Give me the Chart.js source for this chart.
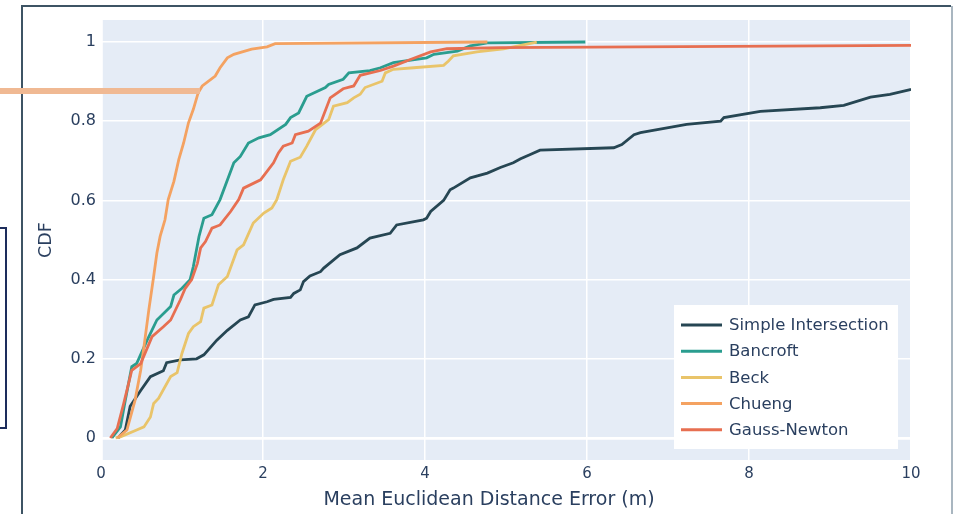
<!DOCTYPE html>
<html>
<head>
<meta charset="utf-8">
<title>CDF</title>
<script src="https://cdn.jsdelivr.net/npm/chart.js@4/dist/chart.umd.min.js"></script>
<style>
  html, body { margin: 0; padding: 0; background: #fff; }
  #wrap { position: relative; width: 953px; height: 514px; overflow: hidden; }
</style>
</head>
<body>
<div id="wrap"><canvas id="cdf" width="953" height="514"></canvas></div>
<script>
"use strict";

// * =============== データ =============== *

const seriesNames = ["Simple Intersection", "Bancroft", "Beck", "Chueng", "Gauss-Newton"];
const seriesColors = ["#264653", "#2a9d8f", "#e9c46a", "#f4a261", "#e76f51"];

const xTicks = [0, 2, 4, 6, 8, 10];
const yTicks = [0, 0.2, 0.4, 0.6, 0.8, 1];

const simpleX = [0.21, 0.30, 0.36, 0.49, 0.61, 0.77, 0.81, 0.98, 1.18, 1.27, 1.43, 1.56, 1.72, 1.82, 1.90, 2.05, 2.13, 2.34, 2.38, 2.46, 2.50, 2.58, 2.71, 2.75, 2.95, 3.16, 3.32, 3.57, 3.65, 3.98, 4.02, 4.07, 4.23, 4.31, 4.35, 4.56, 4.77, 4.93, 5.09, 5.18, 5.30, 5.42, 6.33, 6.43, 6.58, 6.66, 7.23, 7.65, 7.69, 8.14, 8.88, 9.17, 9.50, 9.74, 9.99, 10.3];
const simpleY = [0, 0.02, 0.08, 0.12, 0.155, 0.17, 0.19, 0.197, 0.20, 0.21, 0.247, 0.272, 0.298, 0.306, 0.336, 0.344, 0.350, 0.355, 0.365, 0.374, 0.395, 0.409, 0.42, 0.429, 0.463, 0.48, 0.505, 0.517, 0.538, 0.551, 0.555, 0.572, 0.60, 0.627, 0.631, 0.657, 0.669, 0.683, 0.695, 0.705, 0.716, 0.727, 0.733, 0.741, 0.766, 0.771, 0.792, 0.80, 0.809, 0.825, 0.834, 0.84, 0.861, 0.868, 0.880, 0.89];

const bancroftX = [0.135, 0.24, 0.30, 0.38, 0.44, 0.57, 0.69, 0.86, 0.90, 1.00, 1.10, 1.14, 1.21, 1.27, 1.37, 1.47, 1.64, 1.72, 1.82, 1.95, 2.09, 2.28, 2.34, 2.44, 2.54, 2.77, 2.81, 2.99, 3.06, 3.32, 3.45, 3.61, 4.02, 4.11, 4.40, 4.56, 4.77, 5.98];
const bancroftY = [0, 0.028, 0.095, 0.18, 0.188, 0.247, 0.298, 0.332, 0.361, 0.378, 0.40, 0.433, 0.509, 0.555, 0.564, 0.602, 0.695, 0.711, 0.745, 0.758, 0.766, 0.792, 0.809, 0.821, 0.863, 0.885, 0.893, 0.906, 0.922, 0.928, 0.935, 0.948, 0.960, 0.969, 0.977, 0.99, 0.998, 1.0];

const beckX = [0.18, 0.24, 0.44, 0.53, 0.61, 0.65, 0.71, 0.86, 0.94, 1.00, 1.08, 1.14, 1.23, 1.27, 1.37, 1.45, 1.56, 1.68, 1.76, 1.88, 2.01, 2.11, 2.17, 2.25, 2.34, 2.46, 2.54, 2.65, 2.81, 2.87, 3.04, 3.12, 3.20, 3.26, 3.47, 3.51, 3.61, 3.86, 4.23, 4.29, 4.35, 4.64, 4.97, 5.38];
const beckY = [0, 0.003, 0.02, 0.028, 0.053, 0.087, 0.10, 0.155, 0.165, 0.214, 0.264, 0.281, 0.294, 0.328, 0.336, 0.387, 0.408, 0.475, 0.488, 0.543, 0.568, 0.581, 0.602, 0.652, 0.699, 0.709, 0.737, 0.779, 0.804, 0.838, 0.847, 0.859, 0.868, 0.885, 0.901, 0.922, 0.931, 0.935, 0.941, 0.952, 0.965, 0.975, 0.983, 1.0];

const chuengX = [0.20, 0.32, 0.42, 0.49, 0.53, 0.59, 0.65, 0.69, 0.73, 0.79, 0.83, 0.90, 0.96, 1.02, 1.08, 1.14, 1.20, 1.25, 1.41, 1.47, 1.56, 1.64, 1.86, 2.05, 2.15, 4.77];
const chuengY = [0, 0.02, 0.095, 0.171, 0.23, 0.323, 0.408, 0.467, 0.509, 0.551, 0.602, 0.648, 0.703, 0.745, 0.796, 0.83, 0.872, 0.889, 0.914, 0.935, 0.96, 0.969, 0.982, 0.988, 0.996, 1.0];

const gaussX = [0.115, 0.20, 0.28, 0.38, 0.49, 0.63, 0.77, 0.86, 0.98, 1.04, 1.12, 1.19, 1.23, 1.29, 1.37, 1.47, 1.60, 1.70, 1.76, 1.97, 2.13, 2.19, 2.25, 2.36, 2.40, 2.56, 2.71, 2.83, 2.99, 3.12, 3.20, 3.45, 3.61, 3.82, 4.07, 4.27, 4.93, 10.3];
const gaussY = [0, 0.024, 0.087, 0.171, 0.188, 0.256, 0.281, 0.298, 0.349, 0.378, 0.40, 0.441, 0.48, 0.496, 0.53, 0.538, 0.572, 0.602, 0.631, 0.652, 0.695, 0.72, 0.737, 0.745, 0.766, 0.775, 0.795, 0.859, 0.882, 0.889, 0.916, 0.928, 0.939, 0.956, 0.975, 0.983, 0.986, 0.992];

const seriesX = [simpleX, bancroftX, beckX, chuengX, gaussX];
const seriesY = [simpleY, bancroftY, beckY, chuengY, gaussY];

const xTitle = "Mean Euclidean Distance Error (m)";
const yTitle = "CDF";

// * =============== 共通スタイル =============== *

const FONT = "'DejaVu Sans', Verdana, sans-serif";
const TEXT = "#2a3f5f";

const toPoints = (xs, ys) => xs.map((x, i) => ({x: x, y: ys[i]}));

// プロット背景
const plotBg = {
    id: "plotBg",
    beforeDraw(chart) {
        const {ctx, chartArea: a} = chart;
        ctx.save();
        ctx.fillStyle = "#e5ecf6";
        ctx.fillRect(a.left, a.top, a.right - a.left, a.bottom - a.top);
        ctx.restore();
    }
};

// x軸タイトル（元画像では少し左寄り）
const xAxisTitle = {
    id: "xAxisTitle",
    afterDraw(chart) {
        const ctx = chart.ctx;
        ctx.save();
        ctx.font = "19px " + FONT;
        ctx.fillStyle = TEXT;
        ctx.textAlign = "center";
        ctx.textBaseline = "middle";
        ctx.fillText(xTitle, 489, 500);
        ctx.restore();
    }
};

// 凡例（グラフ内に描画）
const innerLegend = {
    id: "innerLegend",
    afterDraw(chart) {
        const ctx = chart.ctx;
        const box = {x: 674, y: 305, w: 224, h: 144};
        ctx.save();
        ctx.fillStyle = "#ffffff";
        ctx.fillRect(box.x, box.y, box.w, box.h);
        ctx.font = "16.5px " + FONT;
        ctx.textBaseline = "middle";
        chart.data.datasets.forEach((ds, i) => {
            const y = box.y + 20 + i * 26.2;
            ctx.strokeStyle = ds.borderColor;
            ctx.lineWidth = 3;
            ctx.beginPath();
            ctx.moveTo(box.x + 7, y);
            ctx.lineTo(box.x + 48, y);
            ctx.stroke();
            ctx.fillStyle = TEXT;
            ctx.fillText(ds.label, box.x + 55, y + 1);
        });
        ctx.restore();
    }
};

// スライドの枠・注釈線（スクリーンショット由来）
const slideDeco = {
    id: "slideDeco",
    afterDraw(chart) {
        const ctx = chart.ctx;
        ctx.save();
        // 外枠
        ctx.strokeStyle = "#3d5464";
        ctx.lineWidth = 2;
        ctx.beginPath();
        ctx.moveTo(22, 520);
        ctx.lineTo(22, 6);
        ctx.lineTo(951, 6);
        ctx.stroke();
        ctx.strokeStyle = "#8c9eab";
        ctx.lineWidth = 1.5;
        ctx.beginPath();
        ctx.moveTo(952, 6);
        ctx.lineTo(952, 520);
        ctx.stroke();
        // 左の箱
        ctx.strokeStyle = "#1d2d5c";
        ctx.lineWidth = 2;
        ctx.beginPath();
        ctx.moveTo(-5, 228);
        ctx.lineTo(6, 228);
        ctx.lineTo(6, 428);
        ctx.lineTo(-5, 428);
        ctx.stroke();
        // 注釈のオレンジ線
        ctx.strokeStyle = "#f0b993";
        ctx.lineWidth = 6;
        ctx.beginPath();
        ctx.moveTo(0, 91);
        ctx.lineTo(200, 91);
        ctx.stroke();
        ctx.restore();
    }
};

const datasets = seriesNames.map((name, i) => ({
    label: name,
    data: toPoints(seriesX[i], seriesY[i]),
    borderColor: seriesColors[i],
    backgroundColor: seriesColors[i],
    borderWidth: 2.8,
    pointRadius: 0,
    tension: 0,
    fill: false,
    order: seriesNames.length - i
}));

new Chart(document.getElementById("cdf"), {
    type: "line",
    data: {datasets: datasets},
    options: {
        responsive: false,
        animation: false,
        parsing: false,
        layout: {padding: {left: 0, top: 20, right: 42, bottom: 0}},
        plugins: {
            legend: {display: false},
            tooltip: {enabled: false}
        },
        scales: {
            x: {
                type: "linear",
                min: 0,
                max: 10,
                afterBuildTicks: (s) => { s.ticks = xTicks.map(v => ({value: v})); },
                afterFit: (s) => { s.height = 54; },
                grid: {
                    color: "#ffffff",
                    lineWidth: (c) => (c.tick && c.tick.value === 0 ? 2.8 : 1.5),
                    drawTicks: false
                },
                border: {display: false},
                ticks: {
                    color: TEXT,
                    font: {family: FONT, size: 15},
                    padding: 5,
                    maxRotation: 0,
                    callback: (v) => String(v)
                },
                title: {display: false}
            },
            y: {
                type: "linear",
                min: -0.0556,
                max: 1.0556,
                afterBuildTicks: (s) => { s.ticks = yTicks.map(v => ({value: v})); },
                afterFit: (s) => { s.width = 101; },
                grid: {
                    color: "#ffffff",
                    lineWidth: (c) => (c.tick && c.tick.value === 0 ? 2.8 : 1.5),
                    drawTicks: false
                },
                border: {display: false},
                ticks: {
                    color: TEXT,
                    font: {family: FONT, size: 16},
                    padding: 5,
                    callback: (v) => String(Math.round(v * 10) / 10)
                },
                title: {
                    display: true,
                    text: yTitle,
                    color: TEXT,
                    font: {family: FONT, size: 17.5},
                    padding: {top: 36, bottom: 0}
                }
            }
        }
    },
    plugins: [plotBg, xAxisTitle, innerLegend, slideDeco]
});
</script>
</body>
</html>
